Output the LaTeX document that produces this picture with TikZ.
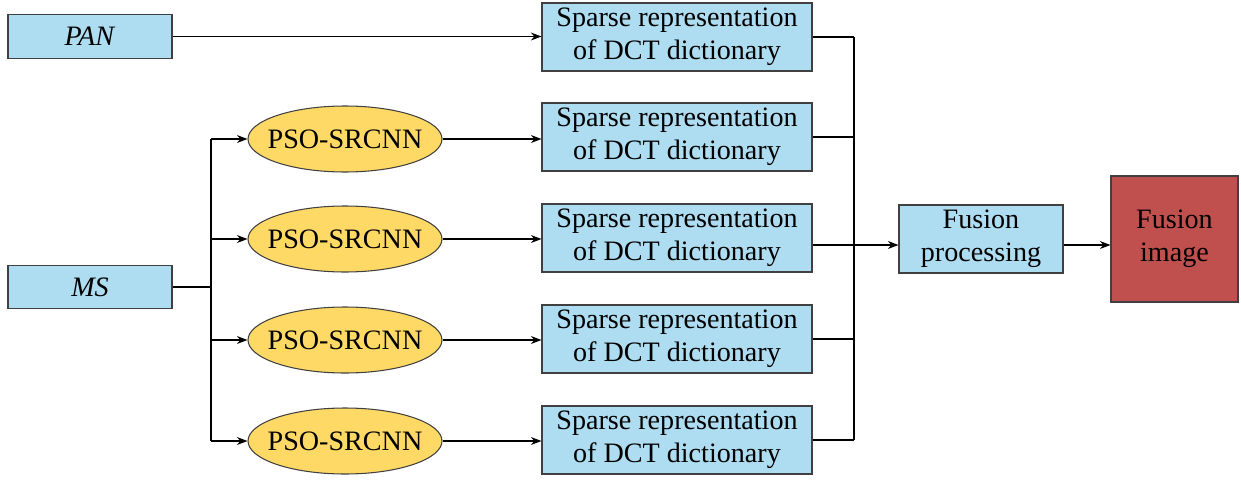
\documentclass[tikz,border=0pt]{standalone}
\usepackage{fontspec}
\setmainfont{Liberation Serif}
\usetikzlibrary{shapes.geometric,arrows.meta}
\definecolor{boxblue}{RGB}{174,220,240}
\definecolor{ovalgold}{RGB}{255,217,102}
\definecolor{outred}{RGB}{192,80,77}
\newcommand{\psotext}{\makebox[0pt]{PSO-SRCNN}}
\begin{document}
\begin{tikzpicture}[>={Stealth[length=6pt,width=4.5pt]}, line width=0.6pt,
		font=\fontsize{16}{19}\selectfont,
		inbox/.style={draw=black!75, fill=boxblue, minimum width=3.28cm, minimum height=0.87cm, inner sep=0pt},
		srbox/.style={draw=black!75, fill=boxblue, minimum width=5.4cm, minimum height=1.36cm, inner sep=0pt, align=center},
		netoval/.style={ellipse, draw=black!75, fill=ovalgold, minimum width=3.88cm, minimum height=1.32cm, inner sep=0pt}]
	\useasboundingbox (0,0) rectangle (24.82,9.6);
	\def\busl{4.22} \def\busr{17.08}
	% inputs
	\node[inbox] (pan) at (1.8,8.87) {\textit{PAN}};
	\node[inbox] (ms) at (1.8,3.86) {\textit{MS}};
	% PSO-SRCNN branch
	\node[netoval] (ps1) at (6.9,6.82) {\psotext};
	\node[netoval] (ps2) at (6.9,4.82) {\psotext};
	\node[netoval] (ps3) at (6.9,2.80) {\psotext};
	\node[netoval] (ps4) at (6.9,0.78) {\psotext};
	% sparse representation
	\node[srbox] (sp1) at (13.54,8.86) {Sparse representation\\of DCT dictionary};
	\node[srbox] (sp2) at (13.54,6.86) {Sparse representation\\of DCT dictionary};
	\node[srbox] (sp3) at (13.54,4.84) {Sparse representation\\of DCT dictionary};
	\node[srbox] (sp4) at (13.54,2.82) {Sparse representation\\of DCT dictionary};
	\node[srbox] (sp5) at (13.54,0.80) {Sparse representation\\of DCT dictionary};
	% fusion
	\node[srbox, minimum width=3.28cm] (fp) at (19.62,4.82) {Fusion\\processing};
	\node[draw=black!75, fill=outred, minimum width=2.54cm, minimum height=2.52cm, inner sep=0pt, align=center] (fi) at (23.49,4.82) {Fusion\\image};
	\coordinate (bl) at (\busl,3.86);
	\coordinate (br) at (\busr,4.70);

	\draw[->] (pan.east) -- (pan.east -| sp1.west);
	\draw (ms.east) -- (bl);
	\draw (bl |- ps1) -- (bl |- ps4);
	\foreach \i in {1,...,4}{
		\draw[->] (bl |- ps\i) -- (ps\i.west);
		\draw[->] (ps\i.east) -- (ps\i.east -| sp1.west);
	}
	\foreach \i in {1,2,4,5}
		\draw (sp\i.east) -- (sp\i.east -| br);
	\draw (br |- sp1) -- (br |- sp5);
	\draw[->] (sp3.east |- br) -- (fp.west |- br);
	\draw[->] (fp.east |- br) -- (fi.west |- br);
\end{tikzpicture}
\end{document}
